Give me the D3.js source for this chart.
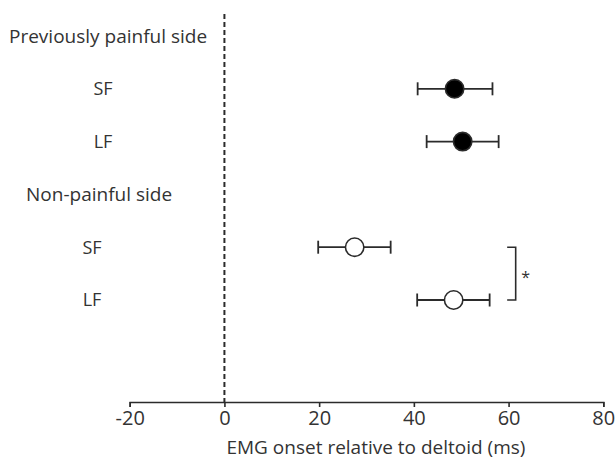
<!DOCTYPE html>
<html>
<head>
<meta charset="utf-8">
<script src="https://cdn.jsdelivr.net/npm/d3@7"></script>
<style>
  body { margin: 0; background: #fff; }
  text { font-family: "Open Sans", sans-serif; fill: #333; }
</style>
</head>
<body>
<div id="chart"></div>
<script>
// rows from top to bottom (headers included)
const rows = ["Previously painful side", "SF-pp", "LF-pp", "Non-painful side", "SF-np", "LF-np"];
const headers = ["Previously painful side", "Non-painful side"];
const conditions = ["SF-pp", "LF-pp", "SF-np", "LF-np"];
const conditionLabels = ["SF", "LF", "SF", "LF"];
const means = [48.6, 50.3, 27.5, 48.4];
const lower = [40.8, 42.7, 19.8, 40.7];
const upper = [56.6, 57.9, 35.1, 56.0];
const filled = [true, true, false, false];
const xTicks = [-20, 0, 20, 40, 60, 80];
const bracketRows = ["SF-np", "LF-np"];
const bracketX = [59.7, 61.5];
const starX = 63.6;

const width = 616, height = 461;
const ink = "#2b2b2b";

const svg = d3.select("#chart").append("svg")
  .attr("width", width).attr("height", height);

const x = d3.scaleLinear().domain([-20, 80]).range([129.7, 603.3]);
const y = d3.scalePoint().domain(rows).range([36, 300]);
const axisY = 402;

// x axis
const axis = svg.append("g")
  .attr("transform", `translate(0,${axisY})`)
  .call(d3.axisBottom(x).tickValues(xTicks).tickSize(5).tickPadding(4).tickFormat(d => String(d)));
axis.select(".domain").attr("stroke", ink).attr("stroke-width", 1.6);
axis.selectAll(".tick line").attr("stroke", ink).attr("stroke-width", 1.6);
axis.selectAll(".tick text").style("font-size", "20px").attr("fill", "#333");

svg.append("text")
  .attr("x", x(32)).attr("y", 454)
  .attr("text-anchor", "middle")
  .style("font-size", "19px")
  .text("EMG onset relative to deltoid (ms)");

// zero line
svg.append("line")
  .attr("x1", x(0)).attr("x2", x(0))
  .attr("y1", 14).attr("y2", axisY)
  .attr("stroke", ink).attr("stroke-width", 2)
  .attr("stroke-dasharray", "5,3");

// group headers
svg.selectAll(".header").data(headers).join("text")
  .attr("class", "header")
  .attr("x", (d, i) => i === 0 ? 9 : 26)
  .attr("y", d => y(d)).attr("dy", "0.35em")
  .style("font-size", "19px")
  .text(d => d);

// condition labels
svg.selectAll(".cond").data(conditions).join("text")
  .attr("class", "cond")
  .attr("x", (d, i) => i < 2 ? 103 : 92)
  .attr("y", d => y(d)).attr("dy", "0.35em")
  .attr("text-anchor", "middle")
  .style("font-size", "18px")
  .text((d, i) => conditionLabels[i]);

// error bars
const capH = 6.5;
const g = svg.append("g").attr("stroke", ink).attr("stroke-width", 1.8);
conditions.forEach((c, i) => {
  const cy = y(c);
  g.append("line").attr("x1", x(lower[i])).attr("x2", x(upper[i])).attr("y1", cy).attr("y2", cy);
  g.append("line").attr("x1", x(lower[i])).attr("x2", x(lower[i])).attr("y1", cy - capH).attr("y2", cy + capH);
  g.append("line").attr("x1", x(upper[i])).attr("x2", x(upper[i])).attr("y1", cy - capH).attr("y2", cy + capH);
});

// means
svg.selectAll(".pt").data(conditions).join("circle")
  .attr("class", "pt")
  .attr("cx", (d, i) => x(means[i]))
  .attr("cy", d => y(d))
  .attr("r", 9.2)
  .attr("fill", (d, i) => filled[i] ? "#000" : "#fff")
  .attr("stroke", ink).attr("stroke-width", 1.6);

// significance bracket
const by0 = y(bracketRows[0]), by1 = y(bracketRows[1]);
svg.append("path")
  .attr("d", `M${x(bracketX[0])},${by0}H${x(bracketX[1])}V${by1}H${x(bracketX[0])}`)
  .attr("fill", "none").attr("stroke", ink).attr("stroke-width", 1.6);
svg.append("text")
  .attr("x", x(starX)).attr("y", (by0 + by1) / 2)
  .attr("dy", "0.6em")
  .attr("text-anchor", "middle")
  .style("font-size", "16px")
  .text("*");
</script>
</body>
</html>
